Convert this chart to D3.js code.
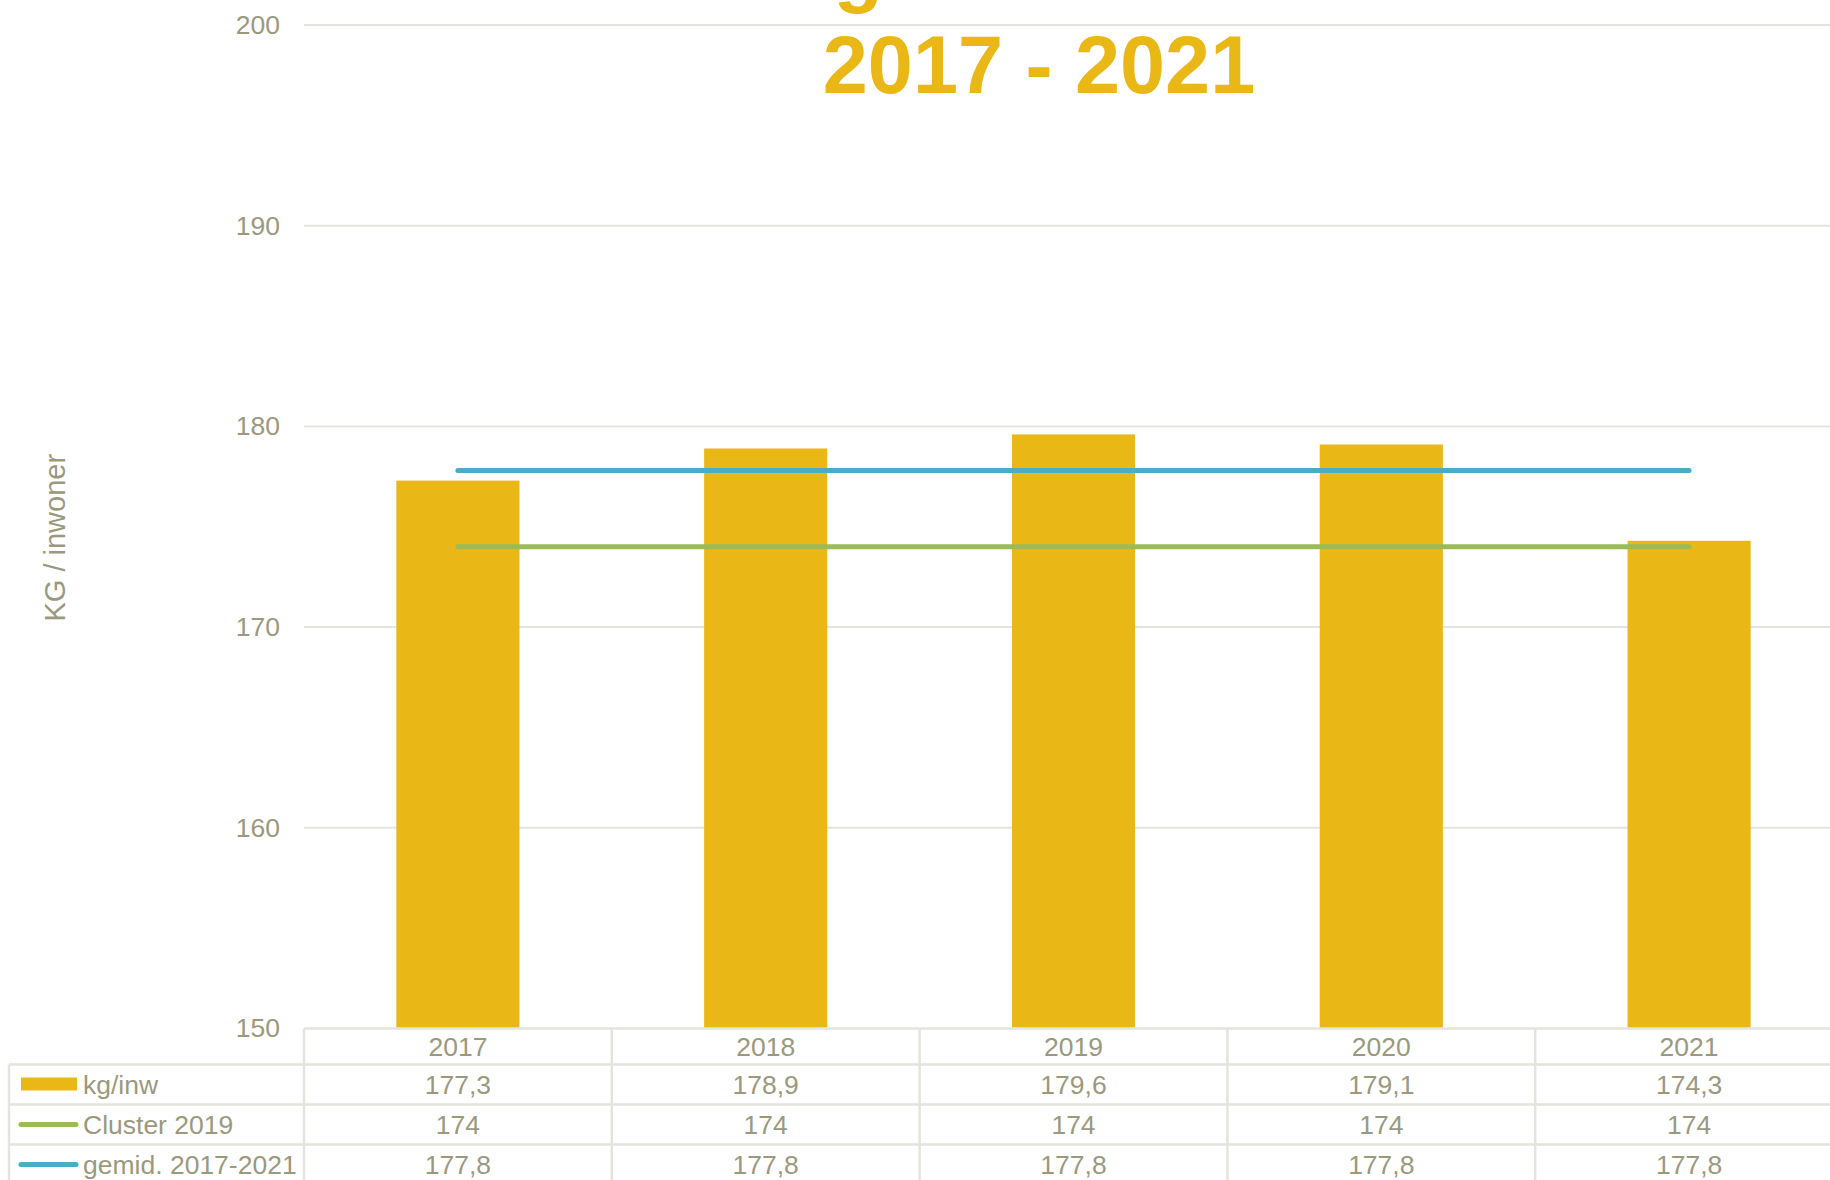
<!DOCTYPE html>
<html>
<head>
<meta charset="utf-8">
<script src="https://cdn.jsdelivr.net/npm/d3@7"></script>
<style>
  body { margin: 0; background: #fff; overflow: hidden; }
  svg { display: block; font-family: "Liberation Sans", Arial, sans-serif; }
</style>
</head>
<body>
<div id="chart"></div>
<script>
(function() {
  // data
  const years = ['2017', '2018', '2019', '2020', '2021'];
  const kgPerInw = [177.3, 178.9, 179.6, 179.1, 174.3];
  const cluster2019 = [174, 174, 174, 174, 174];
  const gemiddeld = [177.8, 177.8, 177.8, 177.8, 177.8];
  const yTicks = [150, 160, 170, 180, 190, 200];
  const seriesNames = ['kg/inw', 'Cluster 2019', 'gemid. 2017-2021'];
  const titleLines = ['Ingezameld KG', '2017 - 2021'];

  const W = 1830, H = 1180;
  const plot = { left: 304, right: 1843, top: 25, bottom: 1028.5 };
  const headerH = 36, rowH = 40, tableLeft = 9;

  const textColor = '#9a997e';
  const gridColor = '#e4e4de';
  const colors = { bar: '#e9b816', cluster: '#9bbb59', gemid: '#4bacc6' };

  const x = d3.scaleBand().domain(years).range([plot.left, plot.right]).padding(0);
  const y = d3.scaleLinear().domain([150, 200]).range([plot.bottom, plot.top]);
  const fmt = v => String(v).replace('.', ',');

  const svg = d3.select('#chart').append('svg')
    .attr('width', W)
    .attr('height', H);

  // gridlines
  svg.append('g')
    .selectAll('line')
    .data(yTicks.filter(t => t > 150))
    .enter().append('line')
      .attr('x1', plot.left)
      .attr('x2', W)
      .attr('y1', d => y(d))
      .attr('y2', d => y(d))
      .attr('stroke', gridColor)
      .attr('stroke-width', 2);

  // y axis labels
  const yAxis = svg.append('g')
    .attr('transform', `translate(${plot.left - 24}, 0)`)
    .call(d3.axisLeft(y).tickValues(yTicks).tickSize(0).tickPadding(0));
  yAxis.select('.domain').remove();
  yAxis.selectAll('text')
    .attr('fill', textColor)
    .style('font-size', '26.5px')
    .style('font-family', '"Liberation Sans", Arial, sans-serif');

  svg.append('text')
    .attr('transform', `translate(55, ${(plot.top + plot.bottom) / 2 + 11}) rotate(-90)`)
    .attr('text-anchor', 'middle')
    .attr('dy', '0.35em')
    .attr('fill', textColor)
    .style('font-size', '29px')
    .text('KG / inwoner');

  // bars
  const barW = x.bandwidth() * 0.4;
  svg.append('g')
    .selectAll('rect')
    .data(kgPerInw)
    .enter().append('rect')
      .attr('x', (d, i) => x(years[i]) + (x.bandwidth() - barW) / 2)
      .attr('y', d => y(d))
      .attr('width', barW)
      .attr('height', d => y(150) - y(d))
      .attr('fill', colors.bar);

  // lines
  const line = d3.line()
    .x((d, i) => x(years[i]) + x.bandwidth() / 2)
    .y(d => y(d));

  svg.append('path')
    .attr('d', line(cluster2019))
    .attr('fill', 'none')
    .attr('stroke', colors.cluster)
    .attr('stroke-width', 5)
    .attr('stroke-linecap', 'round');

  svg.append('path')
    .attr('d', line(gemiddeld))
    .attr('fill', 'none')
    .attr('stroke', colors.gemid)
    .attr('stroke-width', 5)
    .attr('stroke-linecap', 'round');

  // title (first line runs off the top edge, as in the original)
  const title = svg.append('text')
    .attr('text-anchor', 'middle')
    .attr('fill', colors.bar)
    .style('font-size', '81px')
    .style('font-weight', 'bold');
  title.append('tspan').attr('x', 1054).attr('y', -3).text(titleLines[0]);
  title.append('tspan').attr('x', 1039).attr('y', 93).text(titleLines[1]);

  // data table
  const table = svg.append('g');
  const rowTops = [plot.bottom, plot.bottom + headerH];
  for (let i = 1; i <= seriesNames.length; i++) rowTops.push(plot.bottom + headerH + i * rowH);

  table.append('line')
    .attr('x1', plot.left).attr('x2', W)
    .attr('y1', rowTops[0]).attr('y2', rowTops[0])
    .attr('stroke', gridColor).attr('stroke-width', 2.5);

  table.selectAll('.hrow')
    .data(rowTops.slice(1))
    .enter().append('line')
      .attr('class', 'hrow')
      .attr('x1', tableLeft).attr('x2', W)
      .attr('y1', d => d).attr('y2', d => d)
      .attr('stroke', gridColor).attr('stroke-width', 2.5);

  table.append('line')
    .attr('x1', tableLeft).attr('x2', tableLeft)
    .attr('y1', rowTops[1]).attr('y2', H)
    .attr('stroke', gridColor).attr('stroke-width', 2.5);

  table.selectAll('.vcol')
    .data(years.concat(['end']))
    .enter().append('line')
      .attr('class', 'vcol')
      .attr('x1', d => d === 'end' ? plot.right : x(d))
      .attr('x2', d => d === 'end' ? plot.right : x(d))
      .attr('y1', rowTops[0]).attr('y2', H)
      .attr('stroke', gridColor).attr('stroke-width', 2.5);

  // header years
  table.selectAll('.yr')
    .data(years)
    .enter().append('text')
      .attr('class', 'yr')
      .attr('x', d => x(d) + x.bandwidth() / 2)
      .attr('y', rowTops[0] + headerH / 2)
      .attr('dy', '0.36em')
      .attr('text-anchor', 'middle')
      .attr('fill', textColor)
      .style('font-size', '26.5px')
      .text(d => d);

  const rows = [kgPerInw, cluster2019, gemiddeld];
  rows.forEach((vals, r) => {
    const cy = rowTops[r + 1] + rowH / 2;
    table.append('g').selectAll('text')
      .data(vals)
      .enter().append('text')
        .attr('x', (d, i) => x(years[i]) + x.bandwidth() / 2)
        .attr('y', cy)
        .attr('dy', '0.36em')
        .attr('text-anchor', 'middle')
        .attr('fill', textColor)
        .style('font-size', '26.5px')
        .text(d => fmt(d));

    if (r === 0) {
      table.append('rect')
        .attr('x', 21).attr('y', cy - 7)
        .attr('width', 56).attr('height', 13)
        .attr('fill', colors.bar);
    } else {
      table.append('line')
        .attr('x1', 21).attr('x2', 76)
        .attr('y1', cy).attr('y2', cy)
        .attr('stroke', r === 1 ? colors.cluster : colors.gemid)
        .attr('stroke-width', 5)
        .attr('stroke-linecap', 'round');
    }
    table.append('text')
      .attr('x', 83)
      .attr('y', cy)
      .attr('dy', '0.36em')
      .attr('fill', textColor)
      .style('font-size', '26.5px')
      .text(seriesNames[r]);
  });
})();
</script>
</body>
</html>
